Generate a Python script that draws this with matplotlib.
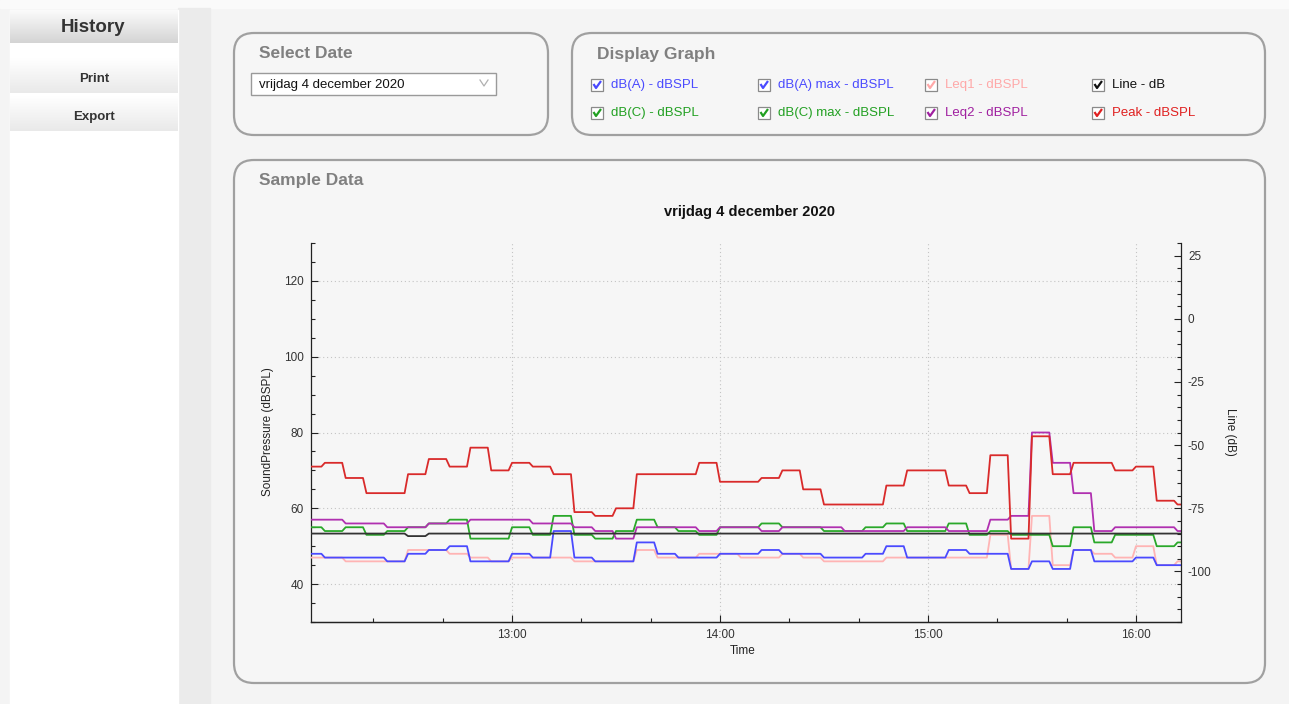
import numpy as np
import pandas as pd
import matplotlib
matplotlib.use("Agg")
import matplotlib.pyplot as plt
import matplotlib.dates as mdates
from matplotlib.patches import FancyBboxPatch, Rectangle
from matplotlib.colors import LinearSegmentedColormap
from matplotlib.ticker import MultipleLocator

plt.rcParams["axes.unicode_minus"] = False

UI_FONT = "Liberation Sans"
AX_FONT = "Liberation Sans"

# 6-minute blocks, first one partial (12:02 - 12:05:30)
peak = [71, 72, 68, 64, 64, 69, 73, 71, 76, 70, 72, 71, 69, 59, 58, 60, 69, 69, 69, 72, 67, 67,
        68, 70, 65, 61, 61, 61, 66, 70, 70, 66, 64, 74, 52, 79, 69, 72, 72, 70, 71, 62, 61]
leq2 = [57, 57, 56, 56, 55, 55, 56, 56, 57, 57, 57, 56, 56, 55, 54, 52, 55, 55, 55, 54, 55, 55,
        54, 55, 55, 55, 54, 54, 54, 55, 55, 54, 54, 57, 58, 80, 72, 64, 54, 55, 55, 55, 54]
dbc = [55, 54, 55, 53, 54, 55, 56, 57, 52, 52, 55, 53, 58, 53, 52, 54, 57, 55, 54, 53, 55, 55,
       56, 55, 55, 54, 54, 55, 56, 54, 54, 56, 53, 54, 53, 53, 50, 55, 51, 53, 53, 50, 51]
dba = [48, 47, 47, 47, 46, 48, 49, 50, 46, 46, 48, 47, 54, 47, 46, 46, 51, 48, 47, 47, 48, 48,
       49, 48, 48, 47, 47, 48, 50, 47, 47, 49, 48, 48, 44, 46, 44, 49, 46, 46, 47, 45, 45]
leq1 = [47, 47, 46, 46, 46, 49, 49, 48, 47, 46, 47, 47, 47, 46, 46, 46, 49, 47, 47, 48, 48, 47,
        47, 48, 47, 46, 46, 46, 47, 47, 47, 47, 47, 53, 44, 58, 45, 49, 48, 47, 50, 45, 46]
line_db = [-85, -85, -85, -85, -85, -86, -85, -85, -85, -85, -85, -85, -85, -85, -85, -85, -85,
           -85, -85, -85, -85, -85, -85, -85, -85, -85, -85, -85, -85, -85, -85, -85, -85, -85,
           -85, -85, -85, -85, -85, -85, -85, -85, -85]

t_start = pd.Timestamp("2020-12-04 12:02")
t_end = pd.Timestamp("2020-12-04 16:13")
block_edges = pd.date_range("2020-12-04 12:05:30", periods=42, freq="6min")

legend_items = [
    ("dB(A) - dBSPL", "#4a4aff"), ("dB(A) max - dBSPL", "#4a4aff"),
    ("Leq1 - dBSPL", "#ffa8a8"), ("Line - dB", "#111111"),
    ("dB(C) - dBSPL", "#22a022"), ("dB(C) max - dBSPL", "#22a022"),
    ("Leq2 - dBSPL", "#a020a0"), ("Peak - dBSPL", "#e02020"),
]

W, H = 1289, 704
fig = plt.figure(figsize=(W / 100, H / 100), dpi=100)
fig.patch.set_facecolor("#f4f4f4")

# ---- UI frame, drawn in pixel coordinates ----
bg = fig.add_axes([0, 0, 1, 1], zorder=0)
bg.axis("off")


def gradient(x0, y0, x1, y1, top, bottom):
    cmap = LinearSegmentedColormap.from_list("g", [top, bottom])
    bg.imshow(np.linspace(0, 1, 64).reshape(-1, 1), cmap=cmap, aspect="auto",
              extent=[x0, x1, y1, y0], origin="upper", zorder=2)


bg.add_patch(Rectangle((0, 0), W, 8, color="#fafafa", zorder=1))
bg.add_patch(Rectangle((178, 8), 32, H, color="#ebebeb", zorder=1))
bg.add_patch(Rectangle((10, 10), 168, H, color="white", zorder=1))
gradient(10, 10, 178, 43, "#fbfbfb", "#d4d4d4")
gradient(10, 58, 178, 93, "#ffffff", "#e9e9e9")
gradient(10, 96, 178, 131, "#ffffff", "#e9e9e9")
bg.text(93, 27, "History", ha="center", va="center", fontsize=13.5, fontweight="bold",
        color="#333333", family=UI_FONT, zorder=3)
bg.text(94, 79, "Print", ha="center", va="center", fontsize=9.5, fontweight="bold",
        color="#333333", family=UI_FONT, zorder=3)
bg.text(94, 117, "Export", ha="center", va="center", fontsize=9.5, fontweight="bold",
        color="#333333", family=UI_FONT, zorder=3)

for x0, y0, x1, y1, title in [(234, 33, 548, 135, "Select Date"),
                              (572, 33, 1265, 135, "Display Graph"),
                              (234, 160, 1265, 683, "Sample Data")]:
    bg.add_patch(FancyBboxPatch((x0, y0), x1 - x0, y1 - y0,
                                boxstyle="round,pad=0,rounding_size=20",
                                facecolor="#f6f6f6", edgecolor="#a0a0a0",
                                linewidth=1.6, zorder=2))
    bg.text(x0 + 25, y0 + 21, title, ha="left", va="center", fontsize=12.5,
            fontweight="bold", color="#808080", family=UI_FONT, zorder=3)

# combo box
bg.add_patch(Rectangle((251, 73), 245, 22, facecolor="white", edgecolor="#9a9a9a",
                       linewidth=1.0, zorder=3))
bg.text(259, 85, "vrijdag 4 december 2020", ha="left", va="center", fontsize=9.5,
        color="#111111", family=UI_FONT, zorder=4)
bg.plot([480, 484, 488], [80, 86, 80], color="#b0b0b0", lw=0.9, zorder=4)

# checkboxes
col_x = [591, 758, 925, 1092]
row_y = [85, 113]
for i, (label, col) in enumerate(legend_items):
    cx = col_x[i % 4]
    cy = row_y[i // 4]
    bg.add_patch(Rectangle((cx, cy - 6), 12, 12, facecolor="white", edgecolor="#8a8a8a",
                           linewidth=0.9, zorder=3))
    bg.plot([cx + 2.5, cx + 5, cx + 10], [cy - 1, cy + 3, cy - 4], color=col, lw=1.6,
            zorder=4, solid_capstyle="butt")
    bg.text(cx + 20, cy, label, ha="left", va="center", fontsize=9.5, color=col,
            family=UI_FONT, zorder=4)

bg.set_xlim(0, W)
bg.set_ylim(H, 0)

# ---- chart ----
ax = fig.add_axes([311 / W, 1 - 622 / H, 870 / W, 379 / H], zorder=2)
ax.patch.set_alpha(0)
ax2 = ax.twinx()


def ramp_xy(values):
    """Step outline with a one-minute slope at every block edge."""
    half = pd.Timedelta(seconds=30)
    xs = [t_start]
    ys = [values[0]]
    for k, edge in enumerate(block_edges):
        xs += [edge - half, edge + half]
        ys += [values[k], values[k + 1]]
    xs.append(t_end)
    ys.append(values[-1])
    return xs, ys


series = [(leq1, "#ffb4b4"), (dba, "#4a4aff"), (dbc, "#2aa82a"),
          (leq2, "#b030b0"), (peak, "#d92a2a")]
for vals, col in series:
    x, y = ramp_xy(vals)
    ax.plot(x, y, color=col, lw=1.3, zorder=3)
x, y = ramp_xy(line_db)
ax2.plot(x, y, color="#333333", lw=1.3, zorder=3)

ax.set_xlim(t_start, t_end)
ax.set_ylim(30, 130)
ax2.set_ylim(-120, 30)

ax.yaxis.set_minor_locator(MultipleLocator(5))
ax.set_yticks([40, 60, 80, 100, 120])
ax2.yaxis.set_major_locator(MultipleLocator(25))
ax2.yaxis.set_minor_locator(MultipleLocator(5))
ax.xaxis.set_major_locator(mdates.HourLocator())
ax.xaxis.set_minor_locator(mdates.MinuteLocator(byminute=[20, 40]))
ax.xaxis.set_major_formatter(mdates.DateFormatter("%H:%M"))

ax.grid(True, which="major", color="#c4c4c4", linestyle=(0, (1, 2.5)), linewidth=0.8)
ax.set_axisbelow(True)

for a in (ax, ax2):
    a.spines["top"].set_visible(False)
    for s in ("left", "right", "bottom"):
        a.spines[s].set_linewidth(0.9)
        a.spines[s].set_color("#222222")
    a.tick_params(which="major", direction="in", length=5, width=0.8, colors="#222222",
                  labelsize=8.5, labelcolor="#333333", pad=5)
    a.tick_params(which="minor", direction="in", length=3, width=0.8, colors="#222222")
ax.spines["right"].set_visible(False)
ax2.spines["left"].set_visible(False)
for lab in ax.get_xticklabels() + ax.get_yticklabels() + ax2.get_yticklabels():
    lab.set_family(AX_FONT)

fig.text(268 / W, 1 - 432 / H, "SoundPressure (dBSPL)", rotation=90, ha="center",
         va="center", fontsize=8.5, color="#222222", family=AX_FONT)
fig.text(1230 / W, 1 - 432 / H, "Line (dB)", rotation=270, ha="center", va="center",
         fontsize=8.5, color="#222222", family=AX_FONT)
fig.text(743 / W, 1 - 651 / H, "Time", ha="center", va="center", fontsize=8.5,
         color="#222222", family=AX_FONT)

fig.text(749 / W, 1 - 212 / H, "vrijdag 4 december 2020", ha="center", va="center",
         fontsize=10.5, fontweight="bold", color="#111111", family=AX_FONT)

fig.savefig("out.png", dpi=100, facecolor=fig.get_facecolor())
